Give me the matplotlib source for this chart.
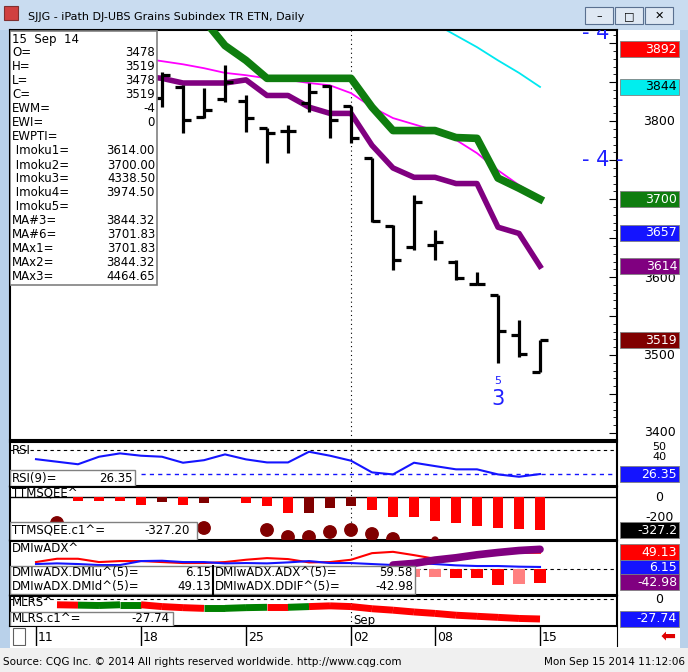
import matplotlib
matplotlib.use("Agg")
import matplotlib.pyplot as plt
from matplotlib.patches import Rectangle
import numpy as np

W, H = 688, 672
# ---------------- data ----------------
idx = list(range(25))
dates_lbl = ["11", "18", "25", "02", "08", "15"]
dates_pos = [0, 5, 10, 15, 19, 24]
bar_i = [6, 7, 8, 9, 10, 11, 12, 13, 14, 15, 16, 17, 18, 19, 20, 21, 22, 23, 24]
opens = [3830, 3844, 3805, 3828, 3826, 3791, 3788, 3823, 3845, 3819, 3753, 3665, 3638, 3641, 3620, 3591, 3577, 3526, 3478]
highs = [3863, 3846, 3842, 3872, 3833, 3791, 3795, 3849, 3846, 3820, 3753, 3667, 3705, 3660, 3622, 3606, 3577, 3545, 3519]
lows = [3818, 3785, 3804, 3824, 3786, 3746, 3759, 3812, 3778, 3772, 3671, 3609, 3635, 3622, 3596, 3590, 3490, 3497, 3478]
closes = [3859, 3801, 3815, 3850, 3804, 3785, 3788, 3838, 3801, 3778, 3672, 3622, 3696, 3645, 3599, 3591, 3531, 3501, 3519]

green_i = list(range(8, 25))
green_v = [3930, 3897, 3878, 3855, 3855, 3855, 3855, 3855, 3818, 3788, 3788, 3788, 3779, 3778, 3727, 3714, 3700]
purple_i = list(range(5, 25))
purple_v = [3858, 3855, 3849, 3849, 3849, 3853, 3833, 3833, 3818, 3810, 3810, 3769, 3740, 3728, 3728, 3720, 3720, 3664, 3656, 3614]
mag_i = list(range(5, 25))
mag_v = [3881, 3877, 3873, 3868, 3862, 3859, 3855, 3853, 3849, 3846, 3836, 3818, 3804, 3796, 3788, 3776, 3759, 3737, 3718, 3702]
cyan_i = [19, 20, 21, 22, 23, 24]
cyan_v = [3925, 3910, 3895, 3878, 3862, 3844]

rsi = [41, 38.5, 36, 43.4, 46.7, 44.4, 43.4, 37.5, 40, 45.7, 40.8, 37.8, 37.8, 48.3, 44.4,
       39.5, 28, 26, 37.5, 34.2, 31, 31, 26, 23.7, 26.35]

ttm_i = list(range(2, 25))
ttm_v = [-33, -33, -33, -77, -43, -77, -60, 5, -53, -83, -160, -153, -103, -83, -127, -193, -193, -233, -253, -283, -303, -317, -327.2]
ttm_c = ["r", "r", "r", "r", "d", "r", "d", "g", "r", "r", "r", "d", "d", "d", "r", "r", "r", "r", "r", "r", "r", "r", "r"]
dot_i = [1, 5, 7, 8, 11, 12, 13, 14, 15, 16, 17, 19]
dot_v = [-257, -287, -287, -307, -327, -397, -397, -347, -327, -367, -417, -427]
dot_big = [1, 0, 0, 1, 1, 1, 1, 1, 1, 1, 1, 0]

dmid = [21, 31, 31, 21, 24, 24, 21, 18, 18, 21, 28, 33, 30, 20, 21, 28, 48, 52, 42, 31, 39, 43, 52, 49, 49.13]
dmiu = [15, 17, 15, 12, 12, 24, 25, 21, 21, 17, 18, 17, 20, 24, 18, 18, 15, 12, 18, 15, 11, 9, 9, 7, 6.15]
adx_i = [17, 18, 19, 20, 21, 22, 23, 24]
adx_v = [12, 17, 27, 34, 43, 50, 56, 59.58]
ddif_i = [18, 19, 20, 21, 22, 23, 24]
ddif_v = [-24, -24, -28, -28, -48, -44, -42.98]
ddif_c = ["p", "p", "r", "r", "r", "p", "r"]

mlrs_i = list(range(1, 25))
mlrs_v = [-8, -8.5, -9, -8, -8, -10.5, -12, -13, -13, -12, -11.5, -11.5, -10.5, -9.5, -10.5,
          -13.5, -15.5, -18, -20, -22.5, -24, -25.5, -27, -27.74]
mlrs_seg = ["r", "g", "g", "g", "r", "r", "r", "g", "g", "g", "r", "g", "r", "r", "r",
            "r", "r", "r", "r", "r", "r", "r", "r"]

info = [("O=", "3478"), ("H=", "3519"), ("L=", "3478"), ("C=", "3519"), ("EWM=", "-4"),
        ("EWI=", "0"), ("EWPTI=", ""), (" Imoku1=", "3614.00"), (" Imoku2=", "3700.00"),
        (" Imoku3=", "4338.50"), (" Imoku4=", "3974.50"), (" Imoku5=", ""), ("MA#3=", "3844.32"),
        ("MA#6=", "3701.83"), ("MAx1=", "3701.83"), ("MAx2=", "3844.32"), ("MAx3=", "4464.65")]

# ---------------- figure ----------------
fig = plt.figure(figsize=(W / 100, H / 100), dpi=100)
fig.patch.set_facecolor("#b9d1ea")
plt.rcParams["font.family"] = ["DejaVu Sans"]


def fr(x, y, w, h, **kw):
    fig.add_artist(Rectangle((x / W, 1 - (y + h) / H), w / W, h / H, transform=fig.transFigure, zorder=-5, **kw))


def ft(x, y, s, **kw):
    fig.text(x / W, 1 - y / H, s, **kw)


# window chrome
fr(0, 0, W, 30, fc="#c9dcf0", ec="none")
fr(4, 6, 14, 14, fc="#d04040", ec="#803030", lw=0.8)
ft(28, 17, "SJJG - iPath DJ-UBS Grains Subindex TR ETN, Daily", fontsize=8, va="center")
for bx, col in [(585, "#dfe8f3"), (615, "#dfe8f3"), (645, "#dfe8f3")]:
    fr(bx, 7, 28, 17, fc=col, ec="#5a7090", lw=0.8)
ft(599, 16, "–", fontsize=8, ha="center", va="center")
ft(629, 16, "□", fontsize=8, ha="center", va="center")
ft(659, 16, "✕", fontsize=8, ha="center", va="center")
fr(10, 30, 670, 618, fc="white", ec="none")
fr(0, 648, W, 24, fc="#f0f0f0", ec="none")
ft(3, 662, "Source: CQG Inc. © 2014 All rights reserved worldwide. http://www.cqg.com", fontsize=7.5, va="center")
ft(685, 662, "Mon Sep 15 2014 11:12:06", fontsize=7.5, va="center", ha="right")

XL = ((10 - 36) / 21, (617 - 36) / 21)


def mk(y0, y1, ylim):
    ax = fig.add_axes([10 / W, 1 - y1 / H, 607 / W, (y1 - y0) / H])
    ax.set_facecolor("none")
    ax.set_xlim(*XL)
    ax.set_ylim(*ylim)
    ax.set_xticks([])
    ax.set_yticks([])
    for s in ax.spines.values():
        s.set_color("black")
        s.set_linewidth(1.5)
    ax.axvline(15, color="black", lw=0.8, ls=(0, (1, 3)))
    return ax


def box(ax, yv, txt, fc, tc="white", h=16):
    y0, y1 = ax.get_ylim()
    hp = ax.get_position().height * H
    dh = h * (y1 - y0) / hp
    ax.add_patch(Rectangle((1.005, yv - dh / 2), 0.097, dh, transform=ax.get_yaxis_transform(),
                           fc=fc, ec="#808080", lw=0.6, clip_on=False, zorder=5))
    ax.text(1.099, yv, txt, transform=ax.get_yaxis_transform(), ha="right", va="center",
            color=tc, fontsize=9, zorder=6, clip_on=False)


def rlab(ax, yv, txt, fs=9):
    ax.text(1.07, yv, txt, transform=ax.get_yaxis_transform(), ha="center", va="center",
            fontsize=fs, clip_on=False, zorder=4)


def lbox(ax, x0, x1, yf0, yf1, lines):
    ax.add_patch(Rectangle((x0, yf0), x1 - x0, yf1 - yf0, transform=ax.transAxes, fc="white",
                           ec="#808080", lw=1, zorder=7))
    for (s, xx, ha, yy) in lines:
        ax.text(xx, yy, s, transform=ax.transAxes, ha=ha, va="center", fontsize=8.5, zorder=8)


def px2ax(x):
    return (x - 10) / 607


gi = np.arange(-1, 28)

# ---------------- main panel ----------------
ax = mk(30, 440, (3391, 3917))
for lvl in range(3400, 3950, 50):
    ax.scatter(gi, [lvl] * len(gi), s=0.5, c="black", marker="s", lw=0, zorder=1)
ax.yaxis.tick_right()
ax.set_yticks(range(3400, 3920, 50))
ax.set_yticks(range(3400, 3920, 10), minor=True)
ax.tick_params(axis="y", which="major", direction="in", length=6, labelright=False, color="black")
ax.tick_params(axis="y", which="minor", direction="in", length=3, color="black")
ax.plot(mag_i, mag_v, color="#ff00ff", lw=1.3, zorder=2)
ax.plot(cyan_i, cyan_v, color="#00e8f0", lw=1.3, zorder=2)
ax.plot(purple_i, purple_v, color="#800080", lw=4, zorder=3)
ax.plot(green_i, green_v, color="#0f7d0f", lw=5.5, zorder=3)
tk = 0.38
for i, o, h, l, c in zip(bar_i, opens, highs, lows, closes):
    ax.plot([i, i], [l, h], color="black", lw=2.3, zorder=4, solid_capstyle="butt")
    ax.plot([i - tk, i], [o, o], color="black", lw=2.3, zorder=4, solid_capstyle="butt")
    ax.plot([i, i + tk], [c, c], color="black", lw=2.3, zorder=4, solid_capstyle="butt")
ax.text(22, 3467, "5", color="#2020ff", fontsize=8, ha="center", va="center")
ax.text(22, 3444, "3", color="#2020ff", fontsize=15, ha="center", va="center")
ax.text(27.0, 3750, "- 4 -", color="#2020ff", fontsize=15, ha="center", va="center")
ax.text(27.0, 3913, "- 4 -", color="#2020ff", fontsize=15, ha="center", va="center", clip_on=True)
for v in [3800, 3500, 3400]:
    rlab(ax, v, str(v))
rlab(ax, 3598, "3600")
box(ax, 3892, "3892", "#ff0000")
box(ax, 3844, "3844", "#00eeee", tc="black")
box(ax, 3700, "3700", "#0f7d0f")
box(ax, 3657, "3657", "#1414ff")
box(ax, 3614, "3614", "#800080")
box(ax, 3519, "3519", "#800000")
# info panel
ax.add_patch(Rectangle((0.0, 1 - (285 - 30) / 410), px2ax(157), (285 - 31) / 410, transform=ax.transAxes,
                       fc="white", ec="#808080", lw=1.2, zorder=7))
ax.text(px2ax(12), 1 - (39 - 30) / 410, "15  Sep  14", transform=ax.transAxes, va="center", fontsize=8.5, zorder=8)
for k, (a, b) in enumerate(info):
    yy = 1 - (53 + k * 14 - 30) / 410
    ax.text(px2ax(12), yy, a, transform=ax.transAxes, va="center", fontsize=8.5, zorder=8)
    ax.text(px2ax(155), yy, b, transform=ax.transAxes, va="center", ha="right", fontsize=8.5, zorder=8)

# ---------------- RSI ----------------
a1 = mk(442, 486, (14.6, 57.9))
for lvl in [20, 30, 40, 50]:
    a1.scatter(gi, [lvl] * len(gi), s=0.5, c="black", marker="s", lw=0)
a1.axhline(50, color="black", lw=0.8, ls=(0, (3, 3)))
a1.plot([5.0, 28], [26.35, 26.35], color="#1414ff", lw=1, ls=(0, (3, 3)))
a1.plot(idx, rsi, color="#1414ff", lw=1.5)
a1.text(px2ax(12), 1 - (451 - 442) / 44, "RSI", transform=a1.transAxes, va="center", fontsize=8.5)
lbox(a1, 0, px2ax(135), 0.0, (486 - 470) / 44,
     [("RSI(9)=", px2ax(12), "left", 0.18), ("26.35", px2ax(133), "right", 0.18)])
rlab(a1, 53, "50", fs=8)
rlab(a1, 43, "40", fs=8)
box(a1, 26.35, "26.35", "#1414ff")

# ---------------- TTM squeeze ----------------
a2 = mk(487, 540, (-427, 103))
for lvl in [-100, -200, -300]:
    a2.scatter(gi, [lvl] * len(gi), s=0.5, c="black", marker="s", lw=0)
a2.axhline(0, color="black", lw=1)
cmap = {"r": "#ff0000", "d": "#800000", "g": "#008000"}
a2.bar(ttm_i, ttm_v, width=0.45, color=[cmap[c] for c in ttm_c], zorder=3)
a2.scatter(dot_i, dot_v, s=[80 if b else 18 for b in dot_big], c="#800000", zorder=4)
a2.text(px2ax(12), 1 - (494 - 487) / 53, "TTMSQEE^", transform=a2.transAxes, va="center", fontsize=8.5)
lbox(a2, 0, px2ax(197), 0.0, (540 - 522) / 53,
     [("TTMSQEE.c1^=", px2ax(12), "left", 0.17), ("-327.20", px2ax(190), "right", 0.17)])
rlab(a2, 0, "0")
rlab(a2, -200, "-200")
box(a2, -327.2, "-327.2", "black")

# ---------------- DMI ----------------
a3 = mk(541, 595, (-78.8, 84.8))
for lvl in [-40, 40]:
    a3.scatter(gi, [lvl] * len(gi), s=0.5, c="black", marker="s", lw=0)
a3.axhline(0, color="black", lw=0.8, ls=(0, (3, 3)))
dcm = {"r": "#ff0000", "p": "#ff8080"}
a3.bar(ddif_i, ddif_v, width=0.57, color=[dcm[c] for c in ddif_c], zorder=2)
a3.plot(idx, dmid, color="#ff0000", lw=1.5, zorder=3)
a3.plot(idx, dmiu, color="#1414ff", lw=1.5, zorder=3)
a3.plot(adx_i, adx_v, color="#800080", lw=5.5, zorder=4, solid_capstyle="round")
a3.text(px2ax(12), 1 - (549 - 541) / 54, "DMIwADX^", transform=a3.transAxes, va="center", fontsize=8.5)
lbox(a3, 0, px2ax(415), 0.02, (595 - 566) / 54,
     [("DMIwADX.DMIu^(5)=", px2ax(12), "left", 0.42), ("6.15", px2ax(211), "right", 0.42),
      ("DMIwADX.DMId^(5)=", px2ax(12), "left", 0.16), ("49.13", px2ax(211), "right", 0.16),
      ("DMIwADX.ADX^(5)=", px2ax(215), "left", 0.42), ("59.58", px2ax(413), "right", 0.42),
      ("DMIwADX.DDIF^(5)=", px2ax(215), "left", 0.16), ("-42.98", px2ax(413), "right", 0.16)])
a3.plot([px2ax(213)] * 2, [0.02, (595 - 566) / 54], transform=a3.transAxes, color="black", lw=1.5, zorder=9)
box(a3, 51, "49.13", "#ff0000")
box(a3, 4.5, "6.15", "#1414ff")
box(a3, -40, "-42.98", "#800080")

# ---------------- MLRS ----------------
a4 = mk(596, 626, (-37.5, 4.2))
a4.scatter(gi, [-20] * len(gi), s=0.5, c="black", marker="s", lw=0)
a4.axhline(0, color="black", lw=0.8, ls=(0, (3, 3)))
mcm = {"r": "#ff0000", "g": "#008000"}
for k in range(len(mlrs_i) - 1):
    a4.plot(mlrs_i[k:k + 2], mlrs_v[k:k + 2], color=mcm[mlrs_seg[k]], lw=5, solid_capstyle="butt")
a4.text(px2ax(12), 1 - (603 - 596) / 30, "MLRS^", transform=a4.transAxes, va="center", fontsize=8.5)
lbox(a4, 0, px2ax(173), 0.0, (626 - 612) / 30,
     [("MLRS.c1^=", px2ax(12), "left", 0.24), ("-27.74", px2ax(170), "right", 0.24)])
a4.text(15.1, -30, "Sep", fontsize=8.5, va="center")
rlab(a4, 0, "0")
box(a4, -27.74, "-27.74", "#1414ff")

# ---------------- date axis ----------------
a5 = fig.add_axes([10 / W, 1 - 646 / H, 607 / W, 19 / H])
a5.set_xlim(*XL)
a5.set_ylim(0, 1)
a5.set_xticks([])
a5.set_yticks([])
a5.set_facecolor("none")
for s in a5.spines.values():
    s.set_visible(False)
a5.spines["right"].set_visible(True)
for p, l in zip(dates_pos, dates_lbl):
    a5.axvline(p, color="black", lw=1)
    a5.text(p + 0.1, 0.45, l, fontsize=9, va="center")
a5.add_patch(Rectangle((0.005, 0.05), 0.02, 0.9, transform=a5.transAxes, fc="white", ec="#606060", lw=0.8))
ft(668, 636, "⬅", fontsize=13, color="#e00000", ha="center", va="center")

fig.savefig("out.png", dpi=100)
